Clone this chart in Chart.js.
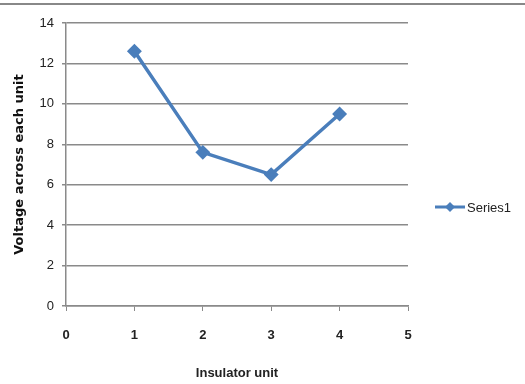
<!DOCTYPE html>
<html>
<head>
<meta charset="utf-8">
<script src="https://cdn.jsdelivr.net/npm/chart.js@4"></script>
<style>
  body { margin: 0; background: #fff; }
  #wrap { width: 525px; height: 384px; }
</style>
</head>
<body>
<div id="wrap"><canvas id="voltChart" width="525" height="384"></canvas></div>
<script>
var units = [1, 2, 3, 4];
var voltages = [12.6, 7.6, 6.5, 9.5];
var seriesName = 'Series1';

var lineColor = '#4A7EBB';
var gridColor = '#8a8a8a';

// legend drawn by hand so it can show line + diamond like Excel
var excelLegend = {
    id: 'excelLegend',
    afterDraw: function(chart) {
        var c = chart.ctx;
        var x = chart.chartArea.right + 27, y = 207;
        c.save();
        c.strokeStyle = lineColor;
        c.lineWidth = 3;
        c.beginPath();
        c.moveTo(x, y);
        c.lineTo(x + 30, y);
        c.stroke();
        c.fillStyle = lineColor;
        c.beginPath();
        c.moveTo(x + 15, y - 5);
        c.lineTo(x + 20, y);
        c.lineTo(x + 15, y + 5);
        c.lineTo(x + 10, y);
        c.closePath();
        c.fill();
        c.fillStyle = '#222';
        c.font = '13px "Liberation Sans"';
        c.textBaseline = 'middle';
        c.fillText(seriesName, x + 32, y + 1);
        // top border line of the picture
        c.strokeStyle = '#888';
        c.lineWidth = 2;
        c.beginPath();
        c.moveTo(0, 4);
        c.lineTo(525, 4);
        c.stroke();
        c.restore();
    }
};

var ctx = document.getElementById('voltChart').getContext('2d');
var myChart = new Chart(ctx, {
    type: 'scatter',
    data: {
        datasets: [{
            label: seriesName,
            data: units.map(function(u, i) { return { x: u, y: voltages[i] }; }),
            showLine: true,
            borderColor: lineColor,
            backgroundColor: lineColor,
            borderWidth: 3.5,
            pointStyle: 'rectRot',
            pointRadius: 5,
            pointHoverRadius: 5
        }]
    },
    options: {
        responsive: false,
        animation: false,
        layout: { padding: { top: 23, right: 117, left: 0, bottom: 0 } },
        plugins: {
            legend: { display: false },
            tooltip: { enabled: false }
        },
        scales: {
            x: {
                type: 'linear',
                min: 0,
                max: 5,
                afterFit: function(s) { s.height = 78; },
                ticks: { stepSize: 1, padding: 17, color: '#222', font: { family: 'Liberation Sans', size: 13, weight: 'bold' } },
                grid: { display: true, drawOnChartArea: false, color: gridColor, tickLength: 5 },
                border: { color: gridColor, width: 1.5 },
                title: {
                    display: true,
                    text: 'Insulator unit',
                    color: '#222',
                    font: { family: 'Liberation Sans', size: 13, weight: 'bold' },
                    padding: { top: 0, bottom: 3 }
                }
            },
            y: {
                min: 0,
                max: 14,
                afterFit: function(s) { s.width = 66; },
                ticks: { stepSize: 2, padding: 8, color: '#222', font: { family: 'Liberation Sans', size: 13 } },
                grid: { color: gridColor, lineWidth: 1.5, tickLength: 4 },
                border: { color: gridColor, width: 1.5 },
                title: {
                    display: true,
                    text: 'Voltage across each unit',
                    color: '#111',
                    font: { family: 'DejaVu Sans', size: 13, weight: 'bold' },
                    padding: { top: 12, bottom: 0 }
                }
            }
        }
    },
    plugins: [excelLegend]
});
</script>
</body>
</html>
